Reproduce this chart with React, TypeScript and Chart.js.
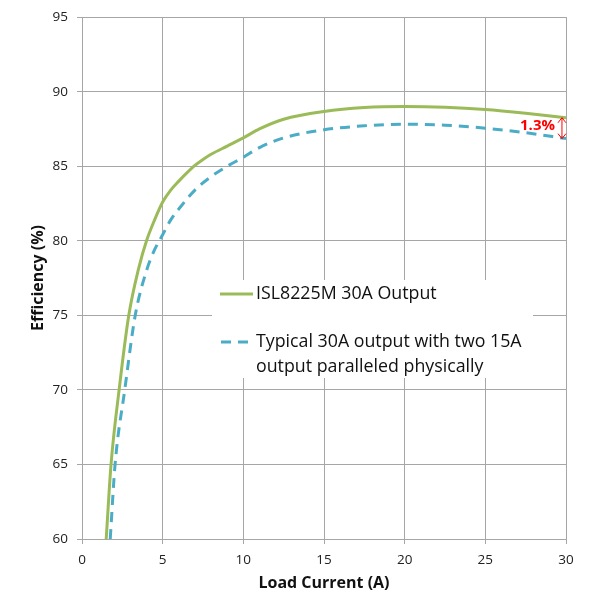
import { useEffect, useRef } from 'react';
import { Chart, registerables } from 'chart.js';
Chart.register(...registerables);

const loadGreen = [1.5, 1.8, 2.3, 2.9, 3.5, 4.0, 4.5, 5, 5.5, 6, 6.5, 7, 7.5, 8, 9, 10, 11, 12.5, 15, 17.5, 20, 22.5, 25, 27.5, 30];
const effGreen = [60, 65, 70, 75, 78.1, 80, 81.4, 82.6, 83.4, 84.0, 84.55, 85.05, 85.45, 85.8, 86.35, 86.9, 87.5, 88.15, 88.67, 88.93, 89.0, 88.95, 88.8, 88.55, 88.25];
const loadBlue = [1.75, 2.05, 2.65, 3.3, 4.0, 4.5, 5, 5.5, 6.2, 7, 8, 9, 10, 11, 12.5, 15, 17.5, 20, 22.5, 25, 27.5, 30];
const effBlue = [60, 65, 70, 75, 78, 79.4, 80.4, 81.4, 82.4, 83.4, 84.3, 85.0, 85.6, 86.25, 86.9, 87.44, 87.71, 87.82, 87.75, 87.55, 87.25, 86.85];

const seriesNames = ['ISL8225M 30A Output', 'Typical 30A output with two 15A|output paralleled physically'];
const deltaLabel = '1.3%';
const xTitle = 'Load Current (A)';
const yTitle = 'Efficiency (%)';

const GREEN = '#9bbb59';
const BLUE = '#4bacc6';
const GRID = '#a6a6a6';
const FONT = "'Open Sans', sans-serif";

const overlay = {
  id: 'overlay',
  afterDraw(chart: any) {
    const ctx = chart.ctx;
    const xs = chart.scales.x;
    const ys = chart.scales.y;
    ctx.save();
    // legend box
    ctx.fillStyle = '#ffffff';
    ctx.fillRect(212, 280, 321, 98);
    ctx.font = `17.8px ${FONT}`;
    ctx.fillStyle = '#111';
    ctx.textBaseline = 'middle';
    ctx.textAlign = 'left';
    // entry 1
    ctx.strokeStyle = GREEN;
    ctx.lineWidth = 3;
    ctx.setLineDash([]);
    ctx.beginPath();
    ctx.moveTo(220, 294);
    ctx.lineTo(253, 294);
    ctx.stroke();
    ctx.fillText(seriesNames[0], 256, 294);
    // entry 2
    ctx.strokeStyle = BLUE;
    ctx.setLineDash([10, 7]);
    ctx.beginPath();
    ctx.moveTo(221, 342);
    ctx.lineTo(253, 342);
    ctx.stroke();
    ctx.setLineDash([]);
    const lines = seriesNames[1].split('|');
    ctx.fillText(lines[0], 256, 342);
    ctx.fillText(lines[1], 256, 367);

    // delta annotation
    const ax = xs.getPixelForValue(29.75);
    const y1 = ys.getPixelForValue(effGreen[effGreen.length - 1]);
    const y2 = ys.getPixelForValue(effBlue[effBlue.length - 1]);
    ctx.strokeStyle = '#ff0000';
    ctx.lineWidth = 1;
    ctx.beginPath();
    ctx.moveTo(ax, y1);
    ctx.lineTo(ax, y2);
    ctx.moveTo(ax - 4, y1 + 5);
    ctx.lineTo(ax, y1);
    ctx.lineTo(ax + 4, y1 + 5);
    ctx.moveTo(ax - 4, y2 - 5);
    ctx.lineTo(ax, y2);
    ctx.lineTo(ax + 4, y2 - 5);
    ctx.stroke();
    ctx.fillStyle = '#ff0000';
    ctx.font = `bold 15px ${FONT}`;
    ctx.textAlign = 'right';
    ctx.fillText(deltaLabel, ax - 7, (y1 + y2) / 2 - 2);
    ctx.restore();
  },
};

export default function App() {
  const ref = useRef<HTMLCanvasElement>(null);
  useEffect(() => {
    if (!ref.current) return;
    const chart = new Chart(ref.current, {
      type: 'line',
      data: {
        datasets: [
          {
            label: seriesNames[0],
            data: loadGreen.map((x, i) => ({ x, y: effGreen[i] })),
            borderColor: GREEN,
            borderWidth: 3,
            pointRadius: 0,
            cubicInterpolationMode: 'monotone',
            fill: false,
          },
          {
            label: seriesNames[1],
            data: loadBlue.map((x, i) => ({ x, y: effBlue[i] })),
            borderColor: BLUE,
            borderWidth: 3,
            borderDash: [10, 7],
            pointRadius: 0,
            cubicInterpolationMode: 'monotone',
            fill: false,
          },
        ],
      },
      options: {
        responsive: false,
        animation: false,
        layout: { padding: { left: 0, top: 14, right: 39, bottom: 0 } },
        plugins: { legend: { display: false }, tooltip: { enabled: false } },
        scales: {
          x: {
            type: 'linear',
            min: 0,
            max: 30,
            ticks: { stepSize: 5, padding: 8, color: '#222', font: { family: FONT, size: 13.5 } },
            grid: { color: GRID, tickLength: 5, lineWidth: 1 },
            border: { color: GRID },
            title: {
              display: true,
              text: xTitle,
              color: '#111',
              font: { family: FONT, size: 16, weight: 'bold' },
              padding: { top: 0, bottom: 7 },
            },
            afterFit: (s: any) => { s.height = 61; },
          },
          y: {
            type: 'linear',
            min: 60,
            max: 95,
            ticks: { stepSize: 5, padding: 9, color: '#222', font: { family: FONT, size: 13.5 } },
            grid: { color: GRID, tickLength: 5, lineWidth: 1 },
            border: { color: GRID },
            title: {
              display: true,
              text: yTitle,
              color: '#111',
              font: { family: FONT, size: 16, weight: 'bold' },
              padding: { top: 29, bottom: 0 },
            },
            afterFit: (s: any) => { s.width = 82; },
          },
        },
      },
      plugins: [overlay],
    } as any);
    return () => chart.destroy();
  }, []);
  return (
    <canvas
      ref={ref}
      width={605}
      height={600}
      style={{ position: 'absolute', left: 0, top: 0, background: '#fff' }}
    />
  );
}
